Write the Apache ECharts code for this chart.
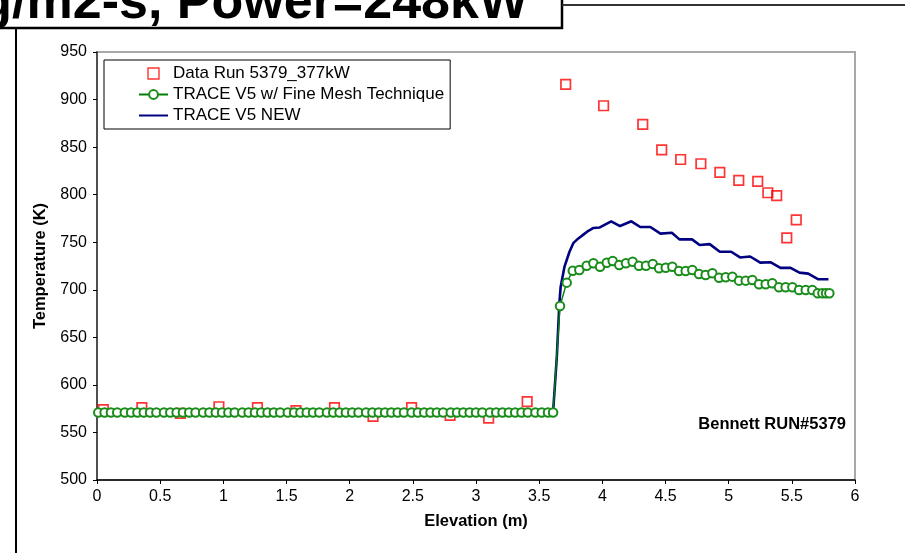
<!DOCTYPE html>
<html><head><meta charset="utf-8">
<script src="https://cdn.jsdelivr.net/npm/echarts@6/dist/echarts.min.js"></script>
<style>html,body{margin:0;padding:0;background:#fff;overflow:hidden}#c{width:905px;height:553px}</style>
</head><body><div id="c"></div>
<script>
// ---- data ----
const seriesNames = ['Data Run 5379_377kW', 'TRACE V5 w/ Fine Mesh Technique', 'TRACE V5 NEW'];

const dataX = [0.05, 0.355, 0.66, 0.965, 1.27, 1.575, 1.88, 2.185, 2.49, 2.795, 3.10, 3.405,
  3.71, 4.01, 4.32, 4.47, 4.62, 4.78, 4.93, 5.08, 5.23, 5.31, 5.38, 5.46, 5.535];
const dataT = [574, 576, 570, 577, 576, 573, 576, 567, 576, 568, 565, 582.5,
  916, 893.5, 874, 847, 837, 832.5, 823.5, 815, 814, 802, 799, 754.5, 773.5];

const fineX = [0.01, 0.06, 0.11, 0.16, 0.22, 0.27, 0.32, 0.37, 0.42, 0.47, 0.53, 0.58, 0.63, 0.68, 0.73,
  0.78, 0.84, 0.89, 0.94, 0.99, 1.04, 1.09, 1.15, 1.20, 1.25, 1.30, 1.35, 1.40, 1.45, 1.51, 1.56,
  1.61, 1.66, 1.71, 1.76, 1.82, 1.87, 1.92, 1.97, 2.02, 2.07, 2.13, 2.18, 2.23, 2.28, 2.33, 2.38,
  2.43, 2.49, 2.54, 2.59, 2.64, 2.69, 2.74, 2.80, 2.85, 2.90, 2.95, 3.00, 3.05, 3.11, 3.16, 3.21,
  3.26, 3.31, 3.36, 3.41, 3.47, 3.52, 3.57, 3.61,
  3.665, 3.718, 3.766, 3.818, 3.876, 3.929, 3.982, 4.035, 4.082, 4.134, 4.187, 4.240, 4.290, 4.346,
  4.399, 4.449, 4.502, 4.554, 4.607, 4.660, 4.712, 4.765, 4.818, 4.871, 4.924, 4.977, 5.029, 5.082,
  5.135, 5.187, 5.240, 5.293, 5.345, 5.398, 5.451, 5.504, 5.557, 5.610, 5.662, 5.705, 5.742, 5.771, 5.797];
const fineT = [571, 571, 571, 571, 571, 571, 571, 571, 571, 571, 571, 571, 571, 571, 571,
  571, 571, 571, 571, 571, 571, 571, 571, 571, 571, 571, 571, 571, 571, 571, 571,
  571, 571, 571, 571, 571, 571, 571, 571, 571, 571, 571, 571, 571, 571, 571, 571,
  571, 571, 571, 571, 571, 571, 571, 571, 571, 571, 571, 571, 571, 571, 571, 571,
  571, 571, 571, 571, 571, 571, 571, 571,
  683, 707.5, 720, 720.8, 725.3, 727.8, 724.3, 728.5, 730.3, 726.1, 727.8, 729.5, 725.3, 725.3,
  727.1, 722.6, 723.2, 724.3, 719.8, 719.8, 720.8, 716.6, 715.6, 717.3, 712.7, 713.1, 713.8, 709.6,
  709.6, 710.3, 705.8, 705.8, 706.8, 702.6, 702.6, 702.6, 699.8, 699.8, 699.8, 696.3, 696.3, 696.3, 696.3];

const newX = [0, 0.5, 1.0, 1.5, 2.0, 2.5, 3.0, 3.5, 3.61, 3.64, 3.66, 3.67, 3.70, 3.74, 3.77, 3.81,
  3.85, 3.89, 3.93, 3.98, 4.07, 4.14, 4.23, 4.30, 4.38, 4.46, 4.55, 4.61, 4.71, 4.77, 4.85, 4.93,
  5.02, 5.09, 5.17, 5.25, 5.33, 5.41, 5.49, 5.56, 5.63, 5.71, 5.79];
const newT = [571, 571, 571, 571, 571, 571, 571, 571, 571, 630, 686, 703, 724, 740, 749, 754,
  758, 762, 765, 765.5, 772, 767, 772, 766, 766, 759, 760, 753, 753, 747, 748, 740,
  740, 734, 735, 728.5, 729, 723, 723, 718, 717, 711, 711];

const xMin = 0, xMax = 6, xStep = 0.5;
const yMin = 500, yMax = 950, yStep = 50;
const titleText = 'kg/m2-s, Power=248kW';
const noteText = 'Bennett RUN#5379';

// ---- chart ----
const FONT = '"Liberation Sans", Arial, Helvetica, sans-serif';
const zip = (xs, ys) => xs.map((x, i) => [x, ys[i]]);
const RED = '#ff0000', GREEN = '#1a8c1a', NAVY = '#000080';

const chart = echarts.init(document.getElementById('c'), null, {renderer: 'canvas'});
chart.setOption({
  animation: false,
  backgroundColor: '#fff',
  grid: {left: 97, right: 50, top: 52, bottom: 73, show: true, borderColor: '#a8a8a8', borderWidth: 2, backgroundColor: 'transparent'},
  xAxis: {
    type: 'value', min: xMin, max: xMax, interval: xStep,
    axisLine: {show: true, onZero: false, lineStyle: {color: '#000', width: 1.5}},
    axisTick: {show: true, length: 4, lineStyle: {color: '#000', width: 1}},
    axisLabel: {fontSize: 16, color: '#000', fontFamily: FONT, margin: 9},
    splitLine: {show: false},
    name: 'Elevation (m)', nameLocation: 'middle', nameGap: 33,
    nameTextStyle: {fontSize: 16.5, fontWeight: 'bold', color: '#000', fontFamily: FONT}
  },
  yAxis: {
    type: 'value', min: yMin, max: yMax, interval: yStep,
    axisLine: {show: true, onZero: false, lineStyle: {color: '#333', width: 1.5}},
    axisTick: {show: true, length: 4, lineStyle: {color: '#000', width: 1}},
    axisLabel: {fontSize: 16, color: '#000', fontFamily: FONT, margin: 10},
    splitLine: {show: false},
    name: 'Temperature (K)', nameLocation: 'middle', nameGap: 48,
    nameTextStyle: {fontSize: 16.5, fontWeight: 'bold', color: '#000', fontFamily: FONT}
  },
  legend: {
    left: 104, top: 60, orient: 'vertical', selectedMode: false,
    data: [
      {name: seriesNames[0], icon: 'path://M0,0H10V10H0Z', itemStyle: {color: 'rgba(255,255,255,0)', borderColor: RED, borderWidth: 1.4}},
      {name: seriesNames[1]},
      {name: seriesNames[2], itemStyle: {color: 'rgba(0,0,0,0)', borderColor: 'rgba(0,0,0,0)', borderWidth: 0}}
    ],
    backgroundColor: '#fff', borderColor: '#000', borderWidth: 1,
    padding: [5, 6, 5, 34],
    itemWidth: 29, itemHeight: 11, itemGap: 4,
    textStyle: {fontSize: 17, color: '#000', fontFamily: FONT}
  },
  series: [
    {
      name: seriesNames[0], type: 'scatter', data: zip(dataX, dataT),
      symbol: 'rect', symbolSize: 9.5,
      itemStyle: {color: 'rgba(255,255,255,0)', borderColor: RED, borderWidth: 1.7},
      emphasis: {disabled: true}, z: 2
    },
    {
      name: seriesNames[2], type: 'line', data: zip(newX, newT),
      symbol: 'none', lineStyle: {color: NAVY, width: 2.6},
      itemStyle: {color: NAVY},
      emphasis: {disabled: true}, z: 3
    },
    {
      name: seriesNames[1], type: 'line', data: zip(fineX, fineT),
      symbol: 'emptyCircle', symbolSize: 8.5, showAllSymbol: true,
      lineStyle: {color: '#008000', width: 1.4},
      itemStyle: {color: GREEN, borderWidth: 1.5},
      emphasis: {disabled: true}, z: 4
    }
  ],
  graphic: [
    {type: 'rect', shape: {x: -10, y: -30, width: 572, height: 58}, style: {fill: '#fff', stroke: '#000', lineWidth: 2.5}, z: 10},
    {type: 'text', x: 528, y: 4, style: {text: titleText, fill: '#000', font: 'bold 52px ' + FONT, textAlign: 'right', textVerticalAlign: 'middle'}, z: 11},
    {type: 'line', shape: {x1: 562, y1: 5, x2: 905, y2: 5}, style: {stroke: '#333', lineWidth: 2}, z: 10},
    {type: 'line', shape: {x1: 16, y1: 28, x2: 16, y2: 553}, style: {stroke: '#000', lineWidth: 2}, z: 10},
    {type: 'text', x: 846, y: 424, style: {text: noteText, fill: '#000', font: 'bold 16.5px ' + FONT, textAlign: 'right', textVerticalAlign: 'middle'}, z: 10}
  ]
});
</script>
</body></html>
